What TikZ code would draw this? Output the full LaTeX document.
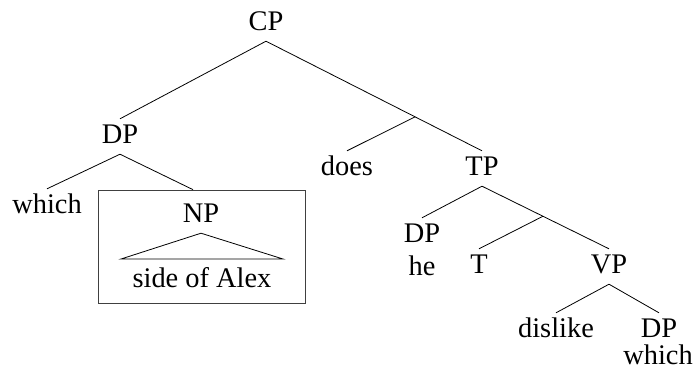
\documentclass[tikz,border=0pt]{standalone}
\usepackage{fontspec}
\setmainfont{Liberation Serif}
\begin{document}
\begin{tikzpicture}[x=1bp,y=1bp,
  lab/.style={inner sep=0pt, anchor=base, text height=24bp, text depth=11bp, font=\fontsize{28.5}{34}\selectfont},
  edge/.style={line width=0.8bp, black},
  framebox/.style={draw=black!75, line width=0.7bp, inner sep=0pt, minimum width=207bp, minimum height=113bp}]
\useasboundingbox (0,0) rectangle (700,-371);
% nodes
\node[lab] (CP) at (266,-30) {CP};
\node[lab] (DPa) at (120,-143) {DP};
\node[lab] (does) at (347,-175) {does};
\node[lab] (TP) at (482,-175) {TP};
\node[lab] (whicha) at (47,-213) {which};
\node[framebox] (box) at (201.5,-246.5) {};
\node[lab] (NP) at (201,-222) {NP};
\node[lab] (side) at (202,-287) {side of Alex};
\node[lab] (DPb) at (422,-242) {DP};
\node[lab] (he) at (422,-275) {he};
\node[lab] (T) at (479,-273) {T};
\node[lab] (VP) at (609,-273) {VP};
\node[lab] (dislike) at (556,-337) {dislike};
\node[lab] (DPc) at (659,-337) {DP};
\node[lab, text height=20bp, text depth=0bp] (whichb) at (658,-364) {which};
\coordinate (tl) at (121,-259);
\coordinate (tr) at (283,-259);
% edges
\draw[edge] (DPa.north) -- (CP.south) -- (TP.north) coordinate[pos=0.69] (m1);
\draw[edge] (m1) -- (does.north);
\draw[edge] (whicha.north) -- (DPa.south) -- ([xshift=-8.5bp]box.north);
\draw[edge] (NP.south) -- (tl) -- (tr) -- cycle;
\draw[edge] (DPb.north) -- (TP.south) -- (VP.north);
\path (TP.south) -- (VP.north) coordinate[pos=0.48] (m2);
\draw[edge] (m2) -- (T.north);
\draw[edge] (dislike.north) -- (VP.south) -- (DPc.north);
\end{tikzpicture}
\end{document}
